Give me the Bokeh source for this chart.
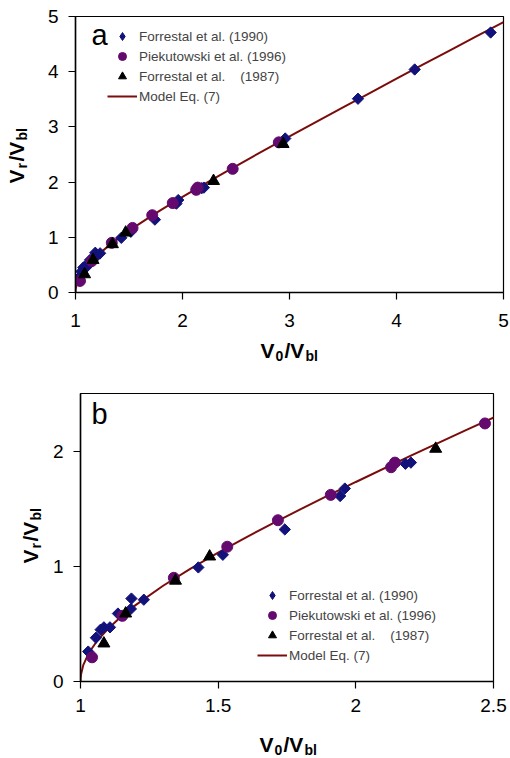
import numpy as np
from bokeh.plotting import figure
from bokeh.models import Legend, LegendItem, Label, FixedTicker, Range1d
from bokeh.layouts import column, row
from bokeh.core.properties import value
from bokeh.embed import file_html
from bokeh.resources import INLINE

# ---- data ----
f1990_x = [1.028, 1.056, 1.073, 1.085, 1.107, 1.136, 1.183, 1.185, 1.23, 1.428, 1.517, 1.742,
           1.943, 1.96, 2.18, 2.20, 2.96, 3.64, 4.17, 4.88]
f1990_y = [0.26, 0.38, 0.45, 0.47, 0.47, 0.59, 0.63, 0.72, 0.71, 0.99, 1.10, 1.32,
           1.61, 1.675, 1.89, 1.90, 2.79, 3.51, 4.04, 4.71]
p1996_x = [1.042, 1.152, 1.339, 1.533, 1.717, 1.909, 2.128, 2.142, 2.469, 2.90]
p1996_y = [0.21, 0.57, 0.90, 1.17, 1.40, 1.62, 1.86, 1.90, 2.24, 2.72]
f1987_x = [1.085, 1.164, 1.345, 1.469, 2.29, 2.94]
f1987_y = [0.33, 0.59, 0.875, 1.085, 2.02, 2.69]
model_x = [1.0, 1.0005, 1.002, 1.01, 1.03, 1.06, 1.1, 1.15, 1.2, 1.3, 1.4, 1.5, 1.6, 1.7, 1.8,
           1.9, 2.0, 2.2, 2.4, 2.6, 2.8, 3.0, 3.25, 3.5, 3.75, 4.0, 4.25, 4.5, 4.75, 5.0]
model_y = [0.0, 0.032, 0.063, 0.142, 0.247, 0.352, 0.458, 0.568, 0.663, 0.831, 0.980, 1.118,
           1.249, 1.375, 1.497, 1.616, 1.732, 1.960, 2.182, 2.400, 2.615, 2.828, 3.092, 3.354,
           3.614, 3.873, 4.131, 4.387, 4.644, 4.899]

labels = ["Forrestal et al. (1990)", "Piekutowski et al. (1996)",
          "Forrestal et al.\u00a0\u00a0\u00a0 (1987)", "Model Eq. (7)"]
a_xticks = [1, 2, 3, 4, 5]
a_yticks = [0, 1, 2, 3, 4, 5]
b_xticks = [1, 1.5, 2, 2.5]
b_yticks = [0, 1, 2]
x_title = [("V", False), ("0", True), ("/V", False), ("bl", True)]
y_title = [("V", False), ("r", True), ("/V", False), ("bl", True)]

NAVY = "#12127A"
PURPLE = "#640A6E"
LINE = "#7A0C0C"
FONT = "Liberation Sans"


def make_panel(width, height, borders, xr, yr, xt, yt, letter, letter_pos, legend_pos, xstand):
    left, right, top, bottom = borders
    p = figure(width=width, height=height, output_backend="svg", toolbar_location=None,
               title=None, x_range=Range1d(*xr), y_range=Range1d(*yr),
               min_border_left=left, min_border_right=right,
               min_border_top=top, min_border_bottom=bottom)
    p.xgrid.visible = False
    p.ygrid.visible = False
    p.outline_line_color = "black"
    p.outline_line_width = 1.2
    p.background_fill_color = "white"
    p.border_fill_color = "white"
    for ax, ticks, stand in ((p.xaxis[0], xt, xstand), (p.yaxis[0], yt, 10)):
        ax.ticker = FixedTicker(ticks=ticks)
        ax.axis_line_color = "black"
        ax.axis_line_width = 1.5
        ax.major_tick_line_color = "black"
        ax.major_tick_line_width = 1.2
        ax.major_tick_out = 7
        ax.major_tick_in = 0
        ax.minor_tick_line_color = None
        ax.major_label_text_font = FONT
        ax.major_label_text_font_size = "19px"
        ax.major_label_text_color = "black"
        ax.major_label_standoff = stand
        ax.axis_label = None
    p.xaxis[0].major_label_overrides = {t: ("%g" % t) for t in xt}

    r_line = p.line(model_x, model_y, line_color=LINE, line_width=2)
    # narrow diamonds (hidden under the rotated squares) give the legend swatch
    r_d_key = p.scatter(f1990_x, f1990_y, marker="diamond", size=8,
                        fill_color=NAVY, line_color=NAVY)
    p.scatter(f1990_x, f1990_y, marker="square", angle=np.pi / 4, size=8,
              fill_color=NAVY, line_color=NAVY)
    r_c = p.scatter(p1996_x, p1996_y, marker="circle", size=11,
                    fill_color=PURPLE, line_color=PURPLE)
    r_t = p.scatter(f1987_x, f1987_y, marker="triangle", size=12,
                    fill_color="black", line_color="black")

    legend = Legend(items=[LegendItem(label=labels[0], renderers=[r_d_key]),
                           LegendItem(label=labels[1], renderers=[r_c]),
                           LegendItem(label=labels[2], renderers=[r_t]),
                           LegendItem(label=labels[3], renderers=[r_line])],
                    location=legend_pos, padding=0, margin=0, spacing=0,
                    glyph_width=30, glyph_height=20, label_height=20, label_standoff=2,
                    label_text_font=FONT, label_text_font_size="13.5px",
                    border_line_alpha=0, background_fill_alpha=0)
    p.add_layout(legend)

    p.add_layout(Label(x=letter_pos[0], y=letter_pos[1], x_units="screen", y_units="screen",
                       text=letter, text_font=FONT, text_font_size="29px",
                       text_baseline="middle", text_color="black"))
    return p


def text_fig(width, height, borders):
    left, right, top, bottom = borders
    fw = width - left - right
    fh = height - top - bottom
    f = figure(width=width, height=height, output_backend="svg", toolbar_location=None,
               title=None, x_axis_type=None, y_axis_type=None,
               x_range=Range1d(0, fw), y_range=Range1d(0, fh),
               min_border_left=left, min_border_right=right,
               min_border_top=top, min_border_bottom=bottom)
    f.outline_line_color = None
    f.xgrid.visible = False
    f.ygrid.visible = False
    f.background_fill_color = "white"
    f.border_fill_color = "white"
    return f


def draw_title(f, pieces, start, main_c, sub_c, rotated):
    offs = [0, 15, 22 if rotated else 24, 43 if rotated else 45]
    main = {"a": [], "b": [], "t": []}
    sub = {"a": [], "b": [], "t": []}
    for (txt, is_sub), off in zip(pieces, offs):
        d = sub if is_sub else main
        d["a"].append(start + off)
        d["b"].append(sub_c if is_sub else main_c)
        d["t"].append(txt)
    for d, fs in ((main, "21px"), (sub, "14px")):
        if rotated:
            xs, ys = d["b"], d["a"]
        else:
            xs, ys = d["a"], d["b"]
        f.text(x=xs, y=ys, text=d["t"], angle=(np.pi / 2 if rotated else 0),
               text_font=value(FONT), text_font_style="bold", text_font_size=fs,
               text_baseline="middle", text_align="left", text_color="black")


# ---- block a (top, 366 px tall) ----
pa = make_panel(470, 336, (35, 7, 16, 44), (1, 5), (0, 5), a_xticks, a_yticks, "a",
                (16, 258), (32, 186), 14)
xa = text_fig(470, 30, (35, 7, 0, 0))
draw_title(xa, x_title, 185, 16, 10.5, False)
ya = text_fig(40, 366, (0, 0, 16, 0))
draw_title(ya, y_title, 183, 16, 21.5, True)
block_a = row(ya, column(pa, xa, spacing=0), spacing=0)

# ---- block b (bottom, 392 px tall) ----
pb = make_panel(462, 355, (32, 17, 27, 40), (1, 2.5), (0, 2.5), b_xticks, b_yticks, "b",
                (11, 268), (177, 16), 10)
xb = text_fig(462, 37, (32, 17, 0, 0))
draw_title(xb, x_title, 179, 14, 8.5, False)
yb = text_fig(48, 392, (0, 0, 27, 0))
draw_title(yb, y_title, 195, 29.5, 35, True)
block_b = row(yb, column(pb, xb, spacing=0), spacing=0)

open("out.html", "w").write(file_html([block_a, block_b], INLINE))
